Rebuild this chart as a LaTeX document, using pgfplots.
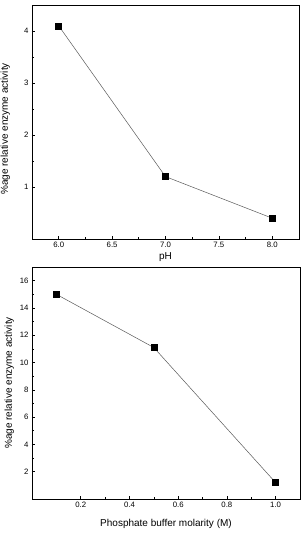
\documentclass[border=0pt]{standalone}
\usepackage{pgfplots}
\pgfplotsset{compat=1.18}
\usepackage{fontspec}
\setmainfont{Liberation Sans}
\begin{document}
\begin{tikzpicture}
\useasboundingbox (0pt,0pt) rectangle (303pt,547pt);
\pgfplotsset{
  myax/.style={
    scale only axis,
    axis line style={line width=0.9pt},
    tick align=inside,
    xtick pos=bottom, ytick pos=left,
    minor x tick num=1, minor y tick num=1,
    major tick length=3pt, minor tick length=1.8pt,
    tick style={line width=0.6pt, black},
    ticklabel style={font=\fontsize{7.8}{9}\selectfont},
    label style={font=\fontsize{10}{12}\selectfont},
    /pgf/number format/assume math mode=true,
  },
  myplot/.style={gray!70!black, line width=0.5pt, mark=square*, mark size=3pt, mark options={fill=black, draw=black}},
}
\begin{axis}[myax,
  at={(32pt,308pt)}, anchor=south west,
  width=267pt, height=234pt,
  xmin=5.75, xmax=8.25, ymin=0, ymax=4.5,
  xtick={6,6.5,7,7.5,8},
  xticklabels={6.0,6.5,7.0,7.5,8.0},
  ytick={1,2,3,4},
  xlabel={pH},
  xlabel style={at={(axis description cs:0.5,-0.077)}, anchor=center},
  ylabel={\%age relative enzyme activity},
  ylabel style={at={(axis description cs:-0.1,0.47)}, anchor=center},
]
\addplot[myplot] coordinates {(6,4.1) (7,1.2) (8,0.4)};
\end{axis}
\begin{axis}[myax,
  at={(32pt,48pt)}, anchor=south west,
  width=268pt, height=232pt,
  xmin=0, xmax=1.1, ymin=0, ymax=17,
  xtick={0.2,0.4,0.6,0.8,1.0},
  xticklabels={0.2,0.4,0.6,0.8,1.0},
  ytick={2,4,6,8,10,12,14,16},
  xlabel={Phosphate buffer molarity (M)},
  xlabel style={at={(axis description cs:0.5,-0.108)}, anchor=center},
  ylabel={\%age relative enzyme activity},
  ylabel style={at={(axis description cs:-0.085,0.5)}, anchor=center},
]
\addplot[myplot] coordinates {(0.1,15.0) (0.5,11.1) (1.0,1.2)};
\end{axis}
\end{tikzpicture}
\end{document}
